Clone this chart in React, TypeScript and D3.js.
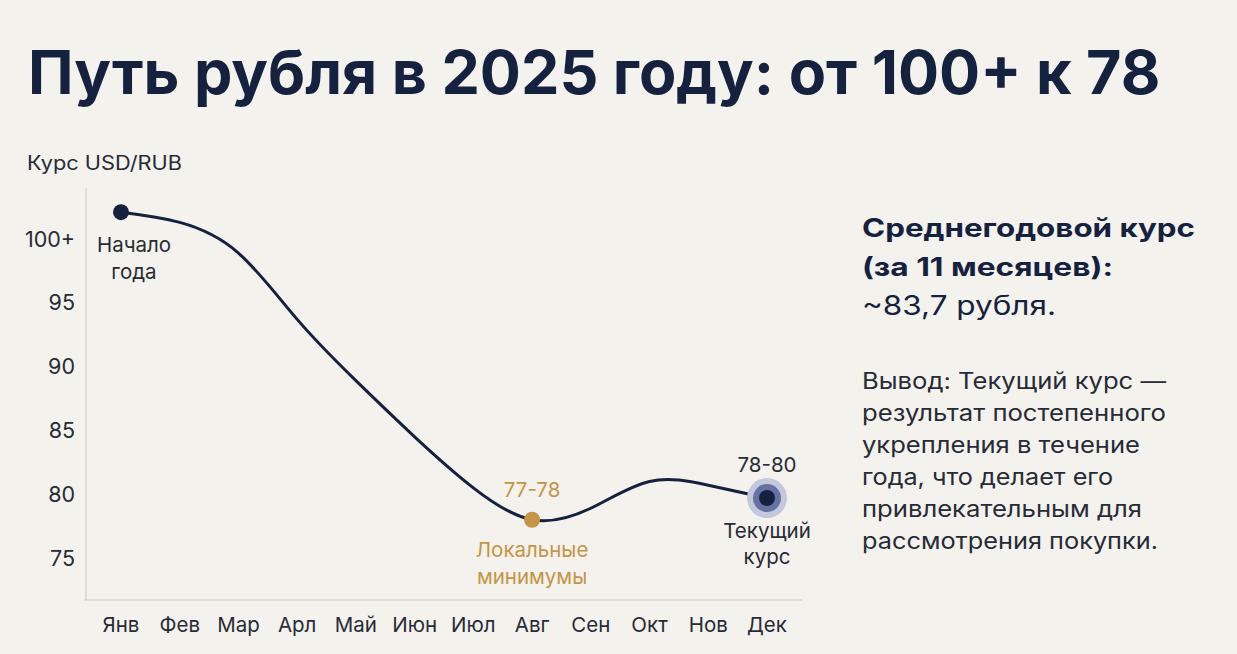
import React from 'react';
import * as d3 from 'd3';

// данные графика
const months = ['Янв', 'Фев', 'Мар', 'Арл', 'Май', 'Июн', 'Июл', 'Авг', 'Сен', 'Окт', 'Нов', 'Дек'];
const rates = [102.1, 101.3, 98.9, 93.7, 88.9, 84.5, 80.5, 78.0, 78.9, 81.0, 80.7, 79.7];
const yTicks = [75, 80, 85, 90, 95, 100];
const yTickLabels = ['75', '80', '85', '90', '95', '100+'];

const title = 'Путь рубля в 2025 году: от 100+ к 78';
const yAxisTitle = 'Курс USD/RUB';
const summaryBold = ['Среднегодовой курс', '(за 11 месяцев):'];
const summaryBoldWidths = [333, 251];
const summaryValue = '~83,7 рубля.';
const conclusion = [
  'Вывод: Текущий курс —',
  'результат постепенного',
  'укрепления в течение',
  'года, что делает его',
  'привлекательным для',
  'рассмотрения покупки.',
];
const conclusionWidths = [304, 304, 278, 251, 280, 296];

const W = 1237;
const H = 654;
const navy = '#14223f';
const textDark = '#262b36';
const gold = '#c49544';
const font = 'Inter, "Noto Sans", sans-serif';

export default function App() {
  const x = d3.scalePoint<string>().domain(months).range([121, 767]);
  const y = d3.scaleLinear().domain([75, 100]).range([558, 239]);

  const line = d3.line<number>()
    .x((_, i) => x(months[i])!)
    .y(d => y(d))
    .curve(d3.curveNatural);

  const iStart = 0;
  const iMin = 7;
  const iEnd = 11;
  const lbl = 20.5;

  return (
    <svg width={W} height={H} style={{ position: 'absolute', left: 0, top: 0, background: '#f4f2ed' }}
      fontFamily={font}>
      <rect width={W} height={H} fill="#f4f2ed" />

      {/* заголовок */}
      <text x={28} y={94} fontSize={61} fontWeight={700} fill={navy}>{title}</text>

      {/* оси */}
      <text x={27} y={170} fontSize={19.5} fill={textDark} textLength={155} lengthAdjust="spacingAndGlyphs">{yAxisTitle}</text>
      <line x1={86} x2={86} y1={188} y2={600} stroke="#d6d4cf" strokeWidth={1.5} />
      <line x1={84} x2={802} y1={600} y2={600} stroke="#d6d4cf" strokeWidth={1.5} />
      {yTicks.map((t, i) => (
        <text key={t} x={75} y={y(t) + 7.5} fontSize={21.5} fill={textDark} textAnchor="end">{yTickLabels[i]}</text>
      ))}
      {months.map(m => (
        <text key={m} x={x(m)} y={632} fontSize={20.5} fill={textDark} textAnchor="middle">{m}</text>
      ))}

      {/* линия курса */}
      <path d={line(rates) ?? ''} fill="none" stroke={navy} strokeWidth={3} />

      {/* начало года */}
      <circle cx={x(months[iStart])} cy={y(rates[iStart])} r={8} fill={navy} />
      <text x={134} y={252} fontSize={lbl} fill={textDark} textAnchor="middle">Начало</text>
      <text x={134} y={279} fontSize={lbl} fill={textDark} textAnchor="middle">года</text>

      {/* локальные минимумы */}
      <circle cx={x(months[iMin])} cy={y(rates[iMin])} r={8} fill={gold} />
      <text x={x(months[iMin])} y={497} fontSize={lbl} fill={gold} textAnchor="middle">77-78</text>
      <text x={x(months[iMin])} y={557} fontSize={lbl} fill={gold} textAnchor="middle">Локальные</text>
      <text x={x(months[iMin])} y={584} fontSize={lbl} fill={gold} textAnchor="middle">минимумы</text>

      {/* текущий курс */}
      <circle cx={x(months[iEnd])} cy={y(rates[iEnd])} r={20} fill="#c3c8dc" />
      <circle cx={x(months[iEnd])} cy={y(rates[iEnd])} r={14} fill="#6572a3" />
      <circle cx={x(months[iEnd])} cy={y(rates[iEnd])} r={8} fill={navy} />
      <text x={x(months[iEnd])} y={472} fontSize={lbl} fill={textDark} textAnchor="middle">78-80</text>
      <text x={x(months[iEnd])} y={538} fontSize={lbl} fill={textDark} textAnchor="middle">Текущий</text>
      <text x={x(months[iEnd])} y={564} fontSize={lbl} fill={textDark} textAnchor="middle">курс</text>

      {/* правая панель */}
      {summaryBold.map((s, i) => (
        <text key={s} x={862} y={237 + i * 39} fontSize={25.5} fontWeight={700} fill={navy}
          textLength={summaryBoldWidths[i]} lengthAdjust="spacingAndGlyphs">{s}</text>
      ))}
      <text x={862} y={315} fontSize={26.5} fill={navy} textLength={194} lengthAdjust="spacingAndGlyphs">{summaryValue}</text>
      {conclusion.map((s, i) => (
        <text key={s} x={862} y={389 + i * 32} fontSize={22.5} fill={textDark}
          textLength={conclusionWidths[i]} lengthAdjust="spacingAndGlyphs">{s}</text>
      ))}
    </svg>
  );
}
